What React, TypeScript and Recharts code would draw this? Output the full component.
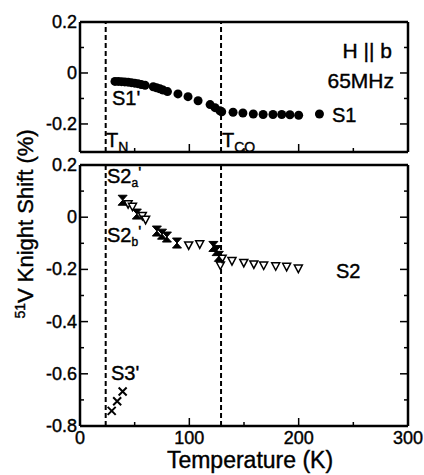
import { ScatterChart, Scatter, XAxis, YAxis, ReferenceLine } from 'recharts';

// S1 (top panel, filled circles)
const s1Temp = [32, 35, 38, 41, 44, 47, 50, 53, 56, 59.5, 67, 70, 73, 76, 80, 89.6, 98.8, 108, 119, 123.5, 128, 129.6, 140, 149, 158.5, 167.5, 176.5, 184.5, 192, 200, 219];
const s1Shift = [-0.033, -0.033, -0.034, -0.035, -0.036, -0.038, -0.04, -0.042, -0.045, -0.048, -0.054, -0.058, -0.062, -0.067, -0.073, -0.082, -0.093, -0.109, -0.124, -0.136, -0.148, -0.152, -0.154, -0.157, -0.161, -0.163, -0.163, -0.163, -0.164, -0.166, -0.161];

// S2 (bottom panel, open inverted triangles)
const s2Temp = [44, 48, 57, 60, 99.4, 109.5, 128.4, 130, 139, 149.8, 159, 168, 179, 189, 199.7];
const s2Shift = [0.05, 0.04, 0.005, -0.01, -0.108, -0.104, -0.185, -0.159, -0.168, -0.175, -0.181, -0.185, -0.188, -0.19, -0.197];

// S2a' / S2b' (filled, overlapping)
const s2pTemp = [39, 52, 70.3, 75, 79.5, 88.7, 122, 125, 127];
const s2pShift = [0.065, 0.012, -0.053, -0.065, -0.076, -0.099, -0.112, -0.128, -0.15];

// S3' (crosses)
const s3Temp = [29, 34, 39];
const s3Shift = [-0.742, -0.705, -0.668];

const tempTicks = [0, 50, 100, 150, 200, 250, 300];
const topTicks = [0.2, 0.1, 0, -0.1, -0.2];
const bottomTicks = [0.2, 0.1, 0, -0.1, -0.2, -0.3, -0.4, -0.5, -0.6, -0.7, -0.8];
const topDomain: [number, number] = [-0.31, 0.2];
const bottomDomain: [number, number] = [-0.8, 0.2];
const tN = 23.5;
const tCO = 129;

const toPoints = (t: number[], v: number[]) => t.map((x, i) => ({ t: x, v: v[i] }));

const FONT = '"Liberation Sans", Arial, sans-serif';

const fmt = (v: number) => (Math.abs(v) < 1e-9 ? '0' : String(Math.round(v * 10) / 10));

const XTick = (props: any) => {
  const { x, y, payload, side, labels } = props;
  const major = payload.value % 100 === 0;
  const len = major ? 8 : 4;
  const dir = side === 'top' ? 1 : -1;
  return (
    <g>
      <line x1={x} y1={y} x2={x} y2={y + dir * len} stroke="#000" strokeWidth={1.5} />
      {labels && major && (
        <text x={x} y={y + 18} textAnchor="middle" fontSize={18} fontFamily={FONT} fill="#000" stroke="#000" strokeWidth={0.4}>
          {payload.value}
        </text>
      )}
    </g>
  );
};

const YTick = (props: any) => {
  const { x, y, payload, side } = props;
  const major = Math.round(payload.value * 10) % 2 === 0;
  const len = major ? 8 : 4;
  const dir = side === 'right' ? -1 : 1;
  return (
    <g>
      <line x1={x} y1={y} x2={x + dir * len} y2={y} stroke="#000" strokeWidth={1.5} />
      {side === 'left' && major && (
        <text x={x - 3} y={y + 6} textAnchor="end" fontSize={18} fontFamily={FONT} fill="#000" stroke="#000" strokeWidth={0.4}>
          {fmt(payload.value)}
        </text>
      )}
    </g>
  );
};

const Circle = (p: any) => <circle cx={p.cx} cy={p.cy} r={4.5} fill="#000" />;
const OpenTri = (p: any) => (
  <path d={`M${p.cx - 4},${p.cy - 3.5} L${p.cx + 4},${p.cy - 3.5} L${p.cx},${p.cy + 4} Z`} fill="#fff" stroke="#000" strokeWidth={1.5} />
);
const Hourglass = (p: any) => (
  <path d={`M${p.cx - 4.5},${p.cy - 5} L${p.cx + 4.5},${p.cy - 5} L${p.cx - 4.5},${p.cy + 5} L${p.cx + 4.5},${p.cy + 5} Z`} fill="#000" stroke="#000" strokeWidth={1} />
);
const Cross = (p: any) => (
  <path d={`M${p.cx - 4},${p.cy - 4} L${p.cx + 4},${p.cy + 4} M${p.cx - 4},${p.cy + 4} L${p.cx + 4},${p.cy - 4}`} stroke="#000" strokeWidth={2} fill="none" />
);

const frame = { stroke: '#000', strokeWidth: 2.5, ifOverflow: 'visible' as const };
const dashed = { stroke: '#000', strokeWidth: 2, strokeDasharray: '5 3' };

function axes(domain: [number, number], ticks: number[], labels: boolean) {
  return [
    <XAxis key="xb" dataKey="t" type="number" domain={[0, 300]} ticks={tempTicks} interval={0} height={1} tickSize={0} tickMargin={0} axisLine={false} tickLine={false} tick={<XTick side="bottom" labels={labels} />} allowDataOverflow />,
    <XAxis key="xt" xAxisId="top" orientation="top" type="number" domain={[0, 300]} ticks={tempTicks} interval={0} height={1} tickSize={0} tickMargin={0} axisLine={false} tickLine={false} tick={<XTick side="top" />} allowDataOverflow />,
    <YAxis key="yl" dataKey="v" type="number" domain={domain} ticks={ticks} interval={0} width={80} tickSize={0} tickMargin={0} axisLine={false} tickLine={false} tick={<YTick side="left" />} allowDataOverflow />,
    <YAxis key="yr" yAxisId="right" orientation="right" type="number" domain={domain} ticks={ticks} interval={0} width={1} tickSize={0} tickMargin={0} axisLine={false} tickLine={false} tick={<YTick side="right" />} allowDataOverflow />,
    <ReferenceLine key="d1" x={tN} {...dashed} />,
    <ReferenceLine key="d2" x={tCO} {...dashed} />,
    <ReferenceLine key="f1" x={0} {...frame} />,
    <ReferenceLine key="f2" x={300} {...frame} />,
    <ReferenceLine key="f3" y={domain[0]} {...frame} />,
    <ReferenceLine key="f4" y={domain[1]} {...frame} />,
  ];
}

export default function App() {
  const txt = { fontFamily: FONT, fill: '#000', stroke: '#000', strokeWidth: 0.4 } as const;
  return (
    <div style={{ position: 'absolute', left: 0, top: 0, width: 424, height: 475, background: '#fff' }}>
      <div style={{ position: 'absolute', left: 0, top: 0 }}>
        <ScatterChart width={424} height={160} margin={{ top: 21, right: 15, bottom: 7, left: 0 }}>
          {axes(topDomain, topTicks, false)}
          <Scatter name="S1" data={toPoints(s1Temp, s1Shift)} shape={<Circle />} isAnimationActive={false} />
        </ScatterChart>
      </div>
      <div style={{ position: 'absolute', left: 0, top: 0 }}>
        <ScatterChart width={424} height={475} margin={{ top: 164, right: 15, bottom: 48, left: 0 }}>
          {axes(bottomDomain, bottomTicks, true)}
          <Scatter name="S2" data={toPoints(s2Temp, s2Shift)} shape={<OpenTri />} isAnimationActive={false} />
          <Scatter name="S2'" data={toPoints(s2pTemp, s2pShift)} shape={<Hourglass />} isAnimationActive={false} />
          <Scatter name="S3'" data={toPoints(s3Temp, s3Shift)} shape={<Cross />} isAnimationActive={false} />
        </ScatterChart>
      </div>
      <svg width={424} height={475} style={{ position: 'absolute', left: 0, top: 0, pointerEvents: 'none' }}>
        <text x={392} y={58} textAnchor="end" fontSize={21} {...txt}>H || b</text>
        <text x={394} y={88} textAnchor="end" fontSize={21} {...txt}>65MHz</text>
        <text x={112} y={105} fontSize={20} {...txt}>S1'</text>
        <text x={332} y={122} fontSize={20} {...txt}>S1</text>
        <text x={106} y={147} fontSize={20} {...txt}>T<tspan fontSize={14} dy={5}>N</tspan></text>
        <text x={222} y={147} fontSize={20} {...txt}>T<tspan fontSize={14} dy={5}>CO</tspan></text>
        <text x={107} y={183} fontSize={20} {...txt}>S2<tspan fontSize={12} dy={4}>a</tspan><tspan dy={-8} fontSize={16}>'</tspan></text>
        <text x={107} y={242} fontSize={20} {...txt}>S2<tspan fontSize={12} dy={4}>b</tspan><tspan dy={-8} fontSize={16}>'</tspan></text>
        <text x={336} y={278} fontSize={20} {...txt}>S2</text>
        <text x={111} y={380} fontSize={20} {...txt}>S3'</text>
        <text x={250} y={468} textAnchor="middle" fontSize={23} {...txt}>Temperature (K)</text>
        <text transform="translate(33,224) rotate(-90)" textAnchor="middle" fontSize={22} {...txt}>
          <tspan fontSize={14} dy={-8}>51</tspan><tspan dy={8}>V Knight Shift (%)</tspan>
        </text>
      </svg>
    </div>
  );
}
